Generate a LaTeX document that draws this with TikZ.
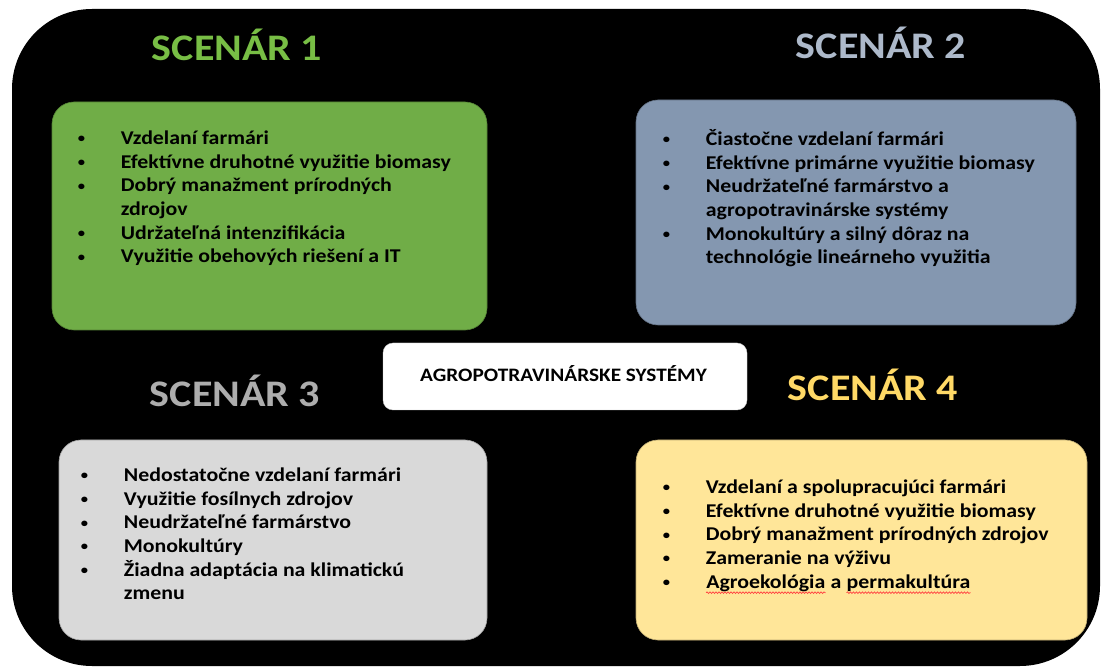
\documentclass[tikz,border=0pt]{standalone}
\usepackage{fontspec}
\setmainfont{Carlito}[FakeStretch=1.12]
\usepackage{xcolor}
\usepackage{tikz}
\usetikzlibrary{positioning,decorations.pathmorphing}

\definecolor{scengreen}{HTML}{70AD47}
\definecolor{scenblue}{HTML}{8497B0}
\definecolor{scengray}{HTML}{D9D9D9}
\definecolor{scenyellow}{HTML}{FFE699}
\definecolor{titlegreen}{HTML}{78BE45}
\definecolor{titleblue}{HTML}{ADB9CA}
\definecolor{titlegray}{HTML}{ADADAD}
\definecolor{titleyellow}{HTML}{FFD966}

\newcommand{\itembul}{\strut\makebox[43pt][l]{\raisebox{1.8pt}{\fontsize{13}{13}\selectfont\textbullet}}}
\newcommand{\contline}{\strut\hspace*{43pt}}

\tikzset{
	scenbox/.style={rounded corners=22pt, fill=#1, draw=#1!75!black, line width=0.6pt, inner sep=0pt},
	scentitle/.style={anchor=base, inner sep=0pt, text=#1, font=\fontsize{37.5}{40}\selectfont\bfseries},
	itemlist/.style={inner sep=0pt, align=left, text=black, font=\fontsize{19.5}{23.7}\selectfont\bfseries},
	spellwave/.style={red!75!white, line width=0.7pt, decorate, decoration={snake, amplitude=0.8pt, segment length=3pt}}
}

\begin{document}
\begin{tikzpicture}[x=1pt, y=-1pt]
			\useasboundingbox (0,0) rectangle (1104,668);
			\fill[white] (0,0) rectangle (1104,668);
			\fill[black, rounded corners=80pt] (12,9) rectangle (1100,666);
			\node[scenbox=scengreen, minimum width=435pt, minimum height=228pt] (box1) at (269.5,216) {};
			\node[scenbox=scenblue, minimum width=440pt, minimum height=225pt] (box2) at (856,212.5) {};
			\node[scenbox=scengray, minimum width=428pt, minimum height=200pt] (box3) at (273,540) {};
			\node[scenbox=scenyellow, minimum width=451pt, minimum height=200pt] (box4) at (861.5,540) {};
			\node[fill=white, draw=black!20, rounded corners=10pt, minimum width=364pt, minimum height=67pt] (center) at (565,376.5) {};
			\node[scentitle=titlegreen] (title1) at (237,61) {SCENÁR 1};
			\node[scentitle=titleblue] (title2) at (881,59) {SCENÁR 2};
			\node[scentitle=titlegray] (title3) at (235,407) {SCENÁR 3};
			\node[scentitle=titleyellow] (title4) at (873,401) {SCENÁR 4};
			\node[anchor=base, inner sep=0pt, font=\fontsize{19}{22}\selectfont\bfseries] (system) at (563.5,382) {AGROPOTRAVINÁRSKE SYSTÉMY};
			\node[itemlist, below right=26pt and 26pt of box1.north west] (list1) {\itembul Vzdelaní farmári\\ \itembul Efektívne druhotné využitie biomasy\\ \itembul Dobrý manažment prírodných\\ \contline zdrojov\\ \itembul Udržateľná intenzifikácia\\ \itembul Využitie obehových riešení a IT};
			\node[itemlist, below right=29pt and 27pt of box2.north west] (list2) {\itembul Čiastočne vzdelaní farmári\\ \itembul Efektívne primárne využitie biomasy\\ \itembul Neudržateľné farmárstvo a\\ \contline agropotravinárske systémy\\ \itembul Monokultúry a silný dôraz na\\ \contline technológie lineárneho využitia};
			\node[itemlist, below right=25pt and 22pt of box3.north west] (list3) {\itembul Nedostatočne vzdelaní farmári\\ \itembul Využitie fosílnych zdrojov\\ \itembul Neudržateľné farmárstvo\\ \itembul Monokultúry\\ \itembul Žiadna adaptácia na klimatickú\\ \contline zmenu};
			\node[itemlist, below right=37pt and 27pt of box4.north west] (list4) {\itembul Vzdelaní a spolupracujúci farmári\\ \itembul Efektívne druhotné využitie biomasy\\ \itembul Dobrý manažment prírodných zdrojov\\ \itembul Zameranie na výživu};
			\node[itemlist, below=0pt of list4.south west, anchor=north west] (item5) {\itembul};
			\node[itemlist, anchor=base west] (agro) at (item5.base east) {Agroekológia};
			\node[itemlist, anchor=base west] (andword) at ([xshift=4.9pt]agro.base east) {a};
			\node[itemlist, anchor=base west] (perma) at ([xshift=4.9pt]andword.base east) {permakultúra};
			\draw[spellwave] ([yshift=-4pt]agro.base west) -- ([yshift=-4pt]agro.base east);
			\draw[spellwave] ([yshift=-4pt]perma.base west) -- ([yshift=-4pt]perma.base east);
		\end{tikzpicture}
\end{document}
